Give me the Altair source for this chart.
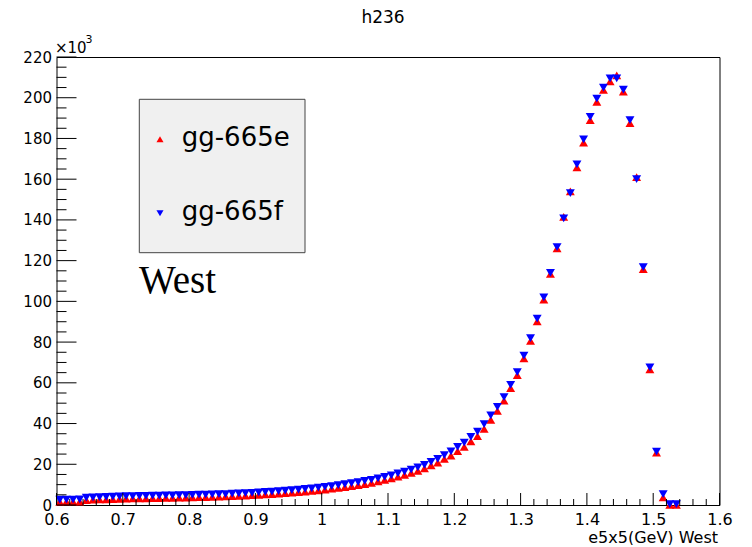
import altair as alt
import pandas as pd

# ---------------- data (counts in units of 10^3) ----------------
n_bins = 94
bin_centers = [round(0.605 + 0.01 * i, 3) for i in range(n_bins)]

series_names = ["gg-665e", "gg-665f"]

counts_e = [1.5, 1.6, 1.6, 1.7, 2.4, 2.6, 2.7, 2.8, 2.9, 3.0,
            3.1, 3.2, 3.3, 3.3, 3.4, 3.4, 3.5, 3.5, 3.6, 3.6,
            3.8, 3.9, 3.9, 4.0, 4.1, 4.2, 4.4, 4.5, 4.6, 4.8,
            5.0, 5.2, 5.4, 5.6, 5.8, 6.1, 6.3, 6.6, 6.9, 7.2,
            7.6, 8.0, 8.4, 8.8, 9.3, 9.8, 10.3, 10.9, 11.6, 12.3,
            13.1, 13.9, 14.8, 15.8, 16.8, 18.0, 19.4, 20.8, 22.6, 24.3,
            26.4, 28.5, 31.2, 33.8, 37.4, 41.8, 46.2, 51.3, 57.4, 63.8,
            72.0, 80.6, 90.2, 100.8, 113.5, 126.0, 141.5, 154.0, 165.8, 178.0,
            189.0, 198.0, 203.8, 208.0, 211.0, 203.0, 187.5, 161.0, 115.8, 66.6,
            25.7, 3.8, 0.1, 0.1]

counts_f = [2.6, 2.7, 2.7, 2.8, 3.6, 3.8, 3.9, 4.0, 4.1, 4.2,
            4.3, 4.4, 4.5, 4.5, 4.6, 4.6, 4.7, 4.7, 4.8, 4.8,
            5.0, 5.1, 5.1, 5.2, 5.3, 5.4, 5.6, 5.7, 5.8, 6.0,
            6.2, 6.4, 6.6, 6.8, 7.0, 7.3, 7.6, 7.9, 8.2, 8.5,
            8.9, 9.3, 9.7, 10.2, 10.7, 11.2, 11.8, 12.4, 13.1, 13.8,
            14.6, 15.5, 16.4, 17.4, 18.5, 19.7, 21.2, 22.6, 24.5, 26.3,
            28.5, 30.6, 33.5, 36.0, 39.7, 44.0, 48.2, 53.0, 59.0, 65.2,
            73.3, 82.0, 91.5, 102.0, 114.0, 126.6, 140.7, 153.2, 167.3, 179.6,
            190.6, 199.6, 205.0, 209.5, 209.5, 204.0, 189.0, 160.0, 116.8, 67.6,
            26.2, 5.3, 0.4, 0.4]

y_major = list(range(0, 221, 20))
y_minor = [v for v in range(0, 221, 5) if v % 20]
x_major = [round(0.6 + 0.1 * i, 1) for i in range(11)]
x_minor = [round(0.6 + 0.02 * i, 2) for i in range(51) if i % 5]

# ---------------- layout ----------------
W, H = 663, 448
FONT = "DejaVu Sans"
MSIZE = 80

xs = alt.Scale(domain=[0.6, 1.6], nice=False, zero=False)
ys = alt.Scale(domain=[0, 220], nice=False, zero=False)

x_axis = alt.Axis(values=x_major, labelExpr="format(datum.value, '.1~f')",
                  ticks=False, tickSize=0, domain=False, grid=False,
                  labelPadding=6, labelFont=FONT, labelFontSize=16,
                  labelColor="black", labelFlush=False, labelOverlap=False,
                  title=None)
y_axis = alt.Axis(values=y_major, format="d", ticks=False, tickSize=0,
                  domain=False, grid=False, labelPadding=5, labelFont=FONT,
                  labelFontSize=15, labelColor="black", labelOverlap=False,
                  title=None)

X = lambda: alt.X("x:Q", scale=xs, axis=x_axis)
Y = lambda: alt.Y("y:Q", scale=ys, axis=y_axis)

df_e = pd.DataFrame({"x": bin_centers, "y": counts_e})
df_f = pd.DataFrame({"x": bin_centers, "y": counts_f})

pts_e = alt.Chart(df_e).mark_point(shape="triangle-up", filled=True, size=MSIZE,
                                   color="#ff0000", opacity=1).encode(x=X(), y=Y())
pts_f = alt.Chart(df_f).mark_point(shape="triangle-down", filled=True, size=MSIZE,
                                   color="#0000ff", opacity=1).encode(x=X(), y=Y())

ymaj = alt.Chart(pd.DataFrame({"y": y_major})).mark_rule(color="black", strokeWidth=1).encode(
    y=Y(), x=alt.value(0), x2=alt.value(20))
ymin = alt.Chart(pd.DataFrame({"y": y_minor})).mark_rule(color="black", strokeWidth=1).encode(
    y=Y(), x=alt.value(0), x2=alt.value(10))
xmaj = alt.Chart(pd.DataFrame({"x": x_major})).mark_rule(color="black", strokeWidth=1).encode(
    x=X(), y=alt.value(H), y2=alt.value(H - 12))
xmin = alt.Chart(pd.DataFrame({"x": x_minor})).mark_rule(color="black", strokeWidth=1).encode(
    x=X(), y=alt.value(H), y2=alt.value(H - 6))

one = pd.DataFrame({"k": [0]})

def label(text, x, y, size, align="left", baseline="middle", font=FONT):
    return alt.Chart(pd.DataFrame({"t": [text]})).mark_text(
        align=align, baseline=baseline, font=font, fontSize=size, color="black"
    ).encode(x=alt.value(x), y=alt.value(y), text="t:N")

title = label("h236", 326.5, -34, 17, align="center", baseline="alphabetic")
exp10 = label("\u00d710", -1.5, -4, 15, baseline="alphabetic")
exp3 = label("3", 29, -14, 11, baseline="alphabetic")
xtitle = label("e5x5(GeV) West", 661.5, 485.5, 16, align="right", baseline="alphabetic")
west = label("West", 82.5, 236, 39, baseline="alphabetic", font="Liberation Serif")

legend_box = alt.Chart(one).mark_rect(fill="#f0f0f0", stroke="#444444", strokeWidth=1).encode(
    x=alt.value(82.8), x2=alt.value(248.5), y=alt.value(42.3), y2=alt.value(195.7))
leg_e = alt.Chart(one).mark_point(shape="triangle-up", filled=True, size=50,
                                  color="#ff0000", opacity=1).encode(
    x=alt.value(103.5), y=alt.value(82.3))
leg_f = alt.Chart(one).mark_point(shape="triangle-down", filled=True, size=50,
                                  color="#0000ff", opacity=1).encode(
    x=alt.value(103.5), y=alt.value(156.3))
leg_te = label(series_names[0], 125.2, 81.3, 26)
leg_tf = label(series_names[1], 125.2, 154.7, 26)

chart = alt.layer(
    pts_e, pts_f, ymaj, ymin, xmaj, xmin,
    title, exp10, exp3, xtitle, west,
    legend_box, leg_e, leg_f, leg_te, leg_tf,
).properties(
    width=W, height=H,
    padding={"left": 48.5, "top": 49, "right": 22, "bottom": 40},
    autosize=alt.AutoSizeParams(type="none"),
    background="white",
).configure_view(stroke="black", strokeWidth=1)

chart.save("out.html", embed_options={"renderer": "svg", "actions": False})
